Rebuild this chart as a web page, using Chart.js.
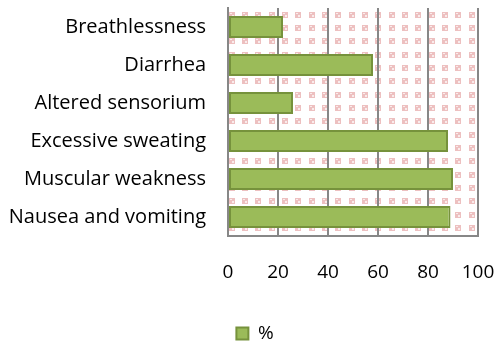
<!DOCTYPE html>
<html>
<head>
    <title>Symptoms</title>
    <script src="https://cdn.jsdelivr.net/npm/chart.js"></script>
    <style>
        body { margin: 0; background: #fff; }
        .chart-container { width: 501px; height: 347px; }
    </style>
</head>
<body>
    <div class="chart-container">
        <canvas id="symptomChart"></canvas>
    </div>

    <script>
        // data
        const symptoms = ['Breathlessness', 'Diarrhea', 'Altered sensorium', 'Excessive sweating', 'Muscular weakness', 'Nausea and vomiting'];
        const percent = [22, 58, 26, 88, 90, 89];
        const seriesName = '%';
        const xTicks = [0, 20, 40, 60, 80, 100];

        const font = "'Open Sans', sans-serif";

        // small pink marks behind the bars (texture of the plot area)
        const patternBg = {
            id: 'patternBg',
            beforeDraw(chart) {
                const { ctx, chartArea: a } = chart;
                const step = 13.33;
                ctx.save();
                ctx.beginPath();
                ctx.rect(a.left, a.top, a.right - a.left, a.bottom - a.top);
                ctx.clip();
                for (let y = a.top + 3.7; y < a.bottom; y += step) {
                    for (let x = a.left + 0.7; x < a.right; x += step) {
                        ctx.fillStyle = 'rgba(225,150,150,0.6)';
                        ctx.fillRect(Math.round(x), Math.round(y), 6, 6);
                        ctx.fillStyle = 'rgba(255,255,255,0.7)';
                        ctx.fillRect(Math.round(x) + 1, Math.round(y) + 1, 2, 1);
                        ctx.fillRect(Math.round(x) + 3, Math.round(y) + 3, 2, 2);
                    }
                }
                ctx.restore();
            }
        };

        // legend sits a bit right of the canvas centre in the original
        const shiftLegend = {
            id: 'shiftLegend',
            afterLayout(chart) {
                chart.legend.left += 16;
                chart.legend.right += 16;
            }
        };

        const ctx = document.getElementById('symptomChart').getContext('2d');
        const chart = new Chart(ctx, {
            type: 'bar',
            data: {
                labels: symptoms,
                datasets: [{
                    label: seriesName,
                    data: percent,
                    backgroundColor: '#9BBB59',
                    borderColor: '#76923C',
                    borderWidth: 2,
                    borderSkipped: false,
                    barPercentage: 0.58,
                    categoryPercentage: 1
                }]
            },
            options: {
                indexAxis: 'y',
                responsive: true,
                maintainAspectRatio: false,
                animation: false,
                layout: { padding: { top: 8, right: 23, bottom: -6, left: 0 } },
                plugins: {
                    tooltip: { enabled: false },
                    legend: {
                        position: 'bottom',
                        labels: {
                            font: { family: font, size: 19 },
                            color: '#000',
                            boxWidth: 12,
                            boxHeight: 12,
                            padding: 4
                        }
                    }
                },
                scales: {
                    x: {
                        min: 0,
                        max: 100,
                        afterBuildTicks: (s) => { s.ticks = xTicks.map(v => ({ value: v })); },
                        grid: { color: '#878787', lineWidth: 2, drawTicks: false },
                        border: { color: '#878787', width: 2 },
                        ticks: { font: { family: font, size: 19 }, color: '#000', padding: 25 },
                        afterFit: (s) => {
                            s.height = 84;
                            s.paddingLeft = 0;
                            s.paddingRight = 0;
                        }
                    },
                    y: {
                        grid: { display: false, drawTicks: false },
                        border: { color: '#878787', width: 2 },
                        ticks: { font: { family: font, size: 20 }, color: '#000', padding: 22 },
                        afterFit: (s) => {
                            s.width = 228;
                            s.paddingTop = 0;
                            s.paddingBottom = 0;
                        }
                    }
                }
            },
            plugins: [patternBg, shiftLegend]
        });
    </script>
</body>
</html>
